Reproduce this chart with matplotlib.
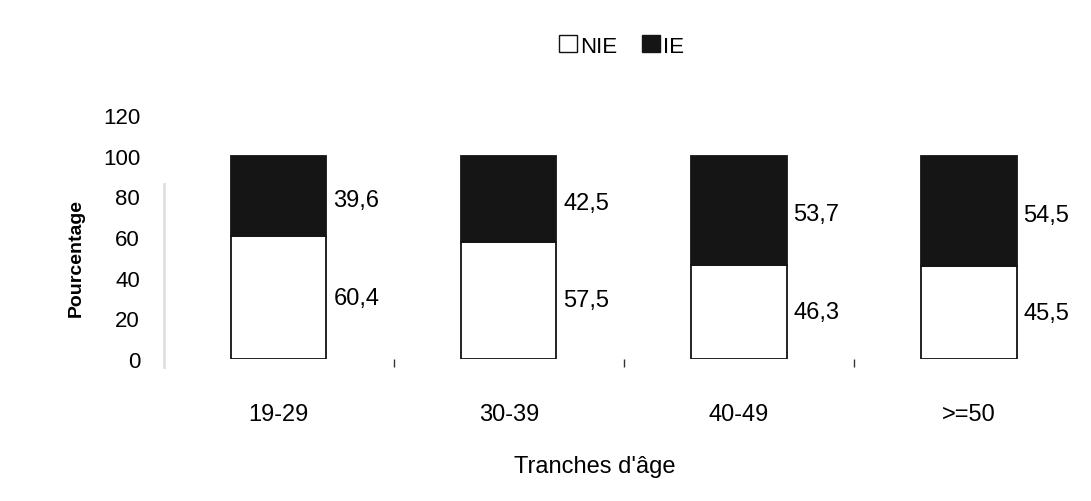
import matplotlib
matplotlib.use('Agg')
import matplotlib.pyplot as plt
from matplotlib.patches import Patch

plt.rcParams['font.family'] = ['Liberation Sans', 'DejaVu Sans']

# tranches d'âge et pourcentages NIE / IE
tranches = ['19-29', '30-39', '40-49', '>=50']
nie = [60.4, 57.5, 46.3, 45.5]
ie = [39.6, 42.5, 53.7, 54.5]

fig = plt.figure(figsize=(10.91, 5.02), dpi=100)
ax = fig.add_axes([0.150, 0.283, 0.8435, 0.486])

x = list(range(len(tranches)))
largeur = 0.415
ax.bar(x, nie, width=largeur, color='white', edgecolor='#111111', linewidth=1.3)
ax.bar(x, ie, width=largeur, bottom=nie, color='#151515', edgecolor='#151515', linewidth=1.3)

# valeurs à droite de chaque segment
for i in x:
    ax.text(i + largeur / 2 + 0.03, nie[i] / 2, ('%.1f' % nie[i]).replace('.', ','),
            va='center', ha='left', fontsize=17)
    ax.text(i + largeur / 2 + 0.03, nie[i] + ie[i] / 2 - 2, ('%.1f' % ie[i]).replace('.', ','),
            va='center', ha='left', fontsize=17)

ax.set_xlim(-0.5, 3.5)
ax.set_ylim(0, 120)
ax.set_yticks(range(0, 121, 20))
ax.set_xticks(x)
ax.set_xticklabels(tranches)
ax.set_xticks([0.5, 1.5, 2.5], minor=True)
ax.tick_params(axis='y', length=0, pad=17, labelsize=16)
ax.tick_params(axis='x', which='major', length=0, pad=32, labelsize=17)
ax.tick_params(axis='x', which='minor', length=6, width=1, color='#333333', direction='out')
for s in ax.spines.values():
    s.set_visible(False)
# axe vertical pâle
ax.spines['left'].set_visible(True)
ax.spines['left'].set_color('#e0e0e0')
ax.spines['left'].set_linewidth(2)
ax.spines['left'].set_bounds(-4, 86)

fig.text(0.545, 1 - 467 / 502, "Tranches d'âge", ha='center', va='center', fontsize=17)
fig.text(0.070, 1 - 258 / 502, 'Pourcentage', ha='center', va='center',
         rotation=90, fontsize=14, fontweight='bold')

poignees = [Patch(facecolor='white', edgecolor='#111111', label='NIE'),
            Patch(facecolor='#151515', edgecolor='#151515', label='IE')]
fig.legend(handles=poignees, loc='center', bbox_to_anchor=(0.570, 1 - 47 / 502), ncol=2,
           frameon=False, fontsize=16, handlelength=0.8, handleheight=0.8,
           handletextpad=0.15, columnspacing=1.1)

fig.savefig('out.png', dpi=100, facecolor='white')
